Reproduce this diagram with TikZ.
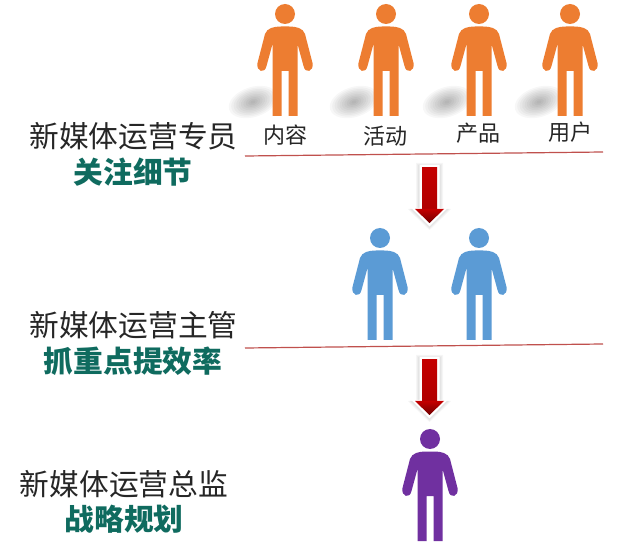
\documentclass[tikz,border=0pt]{standalone}
\usepackage{fontspec}
\setmainfont{Noto Sans CJK SC}
\definecolor{staffcolor}{HTML}{ED7D31}
\definecolor{leadcolor}{HTML}{5B9BD5}
\definecolor{headcolor}{HTML}{7030A0}
\definecolor{tealtext}{HTML}{0F6B5F}
\definecolor{linered}{HTML}{C0504D}
\definecolor{arrowred}{HTML}{C40000}
\definecolor{arrowdark}{HTML}{6E0000}
\begin{document}
\begin{tikzpicture}[
    x=0.75pt, y=-0.75pt,
    role/.style={font=\fontsize{22.3}{24}\selectfont, inner sep=0pt, text=black!85},
    focus/.style={font=\fontsize{22.3}{24}\selectfont\bfseries, inner sep=0pt, text=tealtext},
    team/.style={font=\fontsize{16.5}{18}\selectfont, inner sep=0pt, text=black!85},
    divider/.style={linered, line width=0.9pt},
    person/.pic={
        \fill[pic actions] (0,14) circle (10);
        \fill[pic actions] (-4,26.5) -- (4,26.5) .. controls (11,26.5) and (18,28) .. (20,34)
            -- (27.5,63) .. controls (29,72) and (20,74) .. (18.5,66)
            -- (12.5,44) -- (12.5,116) -- (3.5,116) -- (3.5,71) -- (-3.5,71) -- (-3.5,116) -- (-12.5,116) -- (-12.5,44)
            -- (-18.5,66) .. controls (-20,74) and (-29,72) .. (-27.5,63)
            -- (-20,34) .. controls (-18,28) and (-11,26.5) .. (-4,26.5) -- cycle;
    },
    downarrow/.pic={
        \foreach \w in {6,5,4} {
            \fill[black, opacity=0.035] ({-7.5-\w},{1-\w}) -- ({7.5+\w},{1-\w}) -- ({7.5+\w},{41}) -- ({14.5+\w*1.2},{41}) -- (0,{55+\w*1.2}) -- ({-14.5-\w*1.2},{41}) -- ({-7.5-\w},{41}) -- cycle;
        }
        \fill[white] (-10,-3) -- (10,-3) -- (10,40) -- (18,40) -- (0,58.5) -- (-18,40) -- (-10,40) -- cycle;
        \shade[top color=arrowred, bottom color=arrowred!90!black] (-7.5,0) -- (7.5,0) -- (7.5,41) -- (-7.5,41) -- cycle;
        \shade[top color=arrowred, bottom color=arrowdark] (-14.5,41) -- (14.5,41) -- (0,55) -- cycle;
    }
]
\useasboundingbox (0,0) rectangle (640,556);
\fill[white] (0,0) rectangle (640,556);

% Shadows
\foreach \x in {253,354,447,539} {
    \foreach \r in {1,...,10} {
        \fill[black, opacity=0.03, rotate around={18:(\x,102)}] (\x,102) ellipse ({2.5*\r} and {1.5*\r});
    }
}

% Staff
\foreach \x in {285,386,479,570} {
    \pic[fill=staffcolor] at (\x,0) {person};
}
\node[team] (content) at (285,135) {内容};
\node[team] (activity) at (385,136) {活动};
\node[team] (product) at (478,133) {产品};
\node[team] (user) at (570,132) {用户};
\node[role] (staff) at (133.5,136) {新媒体运营专员};
\node[focus] (staff_focus) at (133,172) {关注细节};

% Dividers
\coordinate (line1a) at (245,156);
\coordinate (line1b) at (603,152);
\coordinate (line2a) at (245,348);
\coordinate (line2b) at (603,344);
\draw[divider] (line1a) -- (line1b);
\draw[divider] (line2a) -- (line2b);

% Arrows
\pic at (429.5,168) {downarrow};
\pic at (429.5,360) {downarrow};

% Leads
\foreach \x in {380,479} {
    \pic[fill=leadcolor] at (\x,224) {person};
}
\node[role] (lead) at (133.5,325) {新媒体运营主管};
\node[focus] (lead_focus) at (133,361) {抓重点提效率};

% Director
\pic[fill=headcolor] at (430,425) {person};
\node[role] (director) at (124,484) {新媒体运营总监};
\node[focus] (director_focus) at (124,519) {战略规划};

\end{tikzpicture}
\end{document}
